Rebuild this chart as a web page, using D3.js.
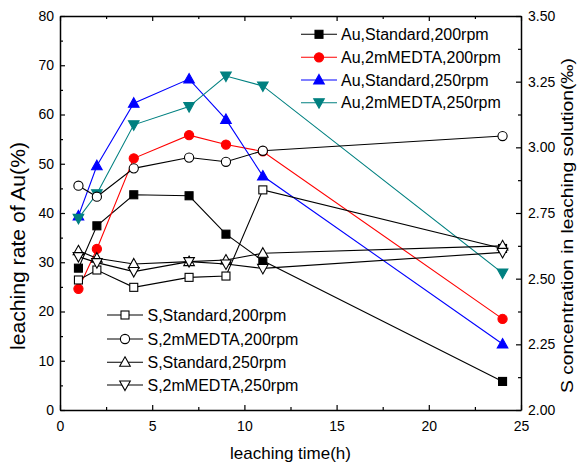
<!DOCTYPE html>
<html><head><meta charset="utf-8">
<script src="https://cdn.jsdelivr.net/npm/d3@7"></script>
<style>
body{margin:0;background:#fff}
text{font-family:Arial,"Liberation Sans",sans-serif;fill:#000}
</style>
</head><body>
<svg id="c" width="578" height="466"></svg>
<script>
// ---- data ----
const time = [1, 2, 4, 7, 9, 11, 24];
const auStd200  = [28.8, 37.4, 43.7, 43.5, 35.7, 30.3, 5.8];
const auEdta200 = [24.6, 32.7, 51.1, 55.8, 53.9, 52.5, 18.5];
const auStd250  = [39.4, 49.6, 62.3, 67.2, 59.0, 47.5, 13.4];
const auEdta250 = [38.9, 43.9, 57.9, 61.6, 67.8, 65.8, 27.8];
const sStd200  = [2.495, 2.533, 2.467, 2.505, 2.510, 2.838, 2.615];
const sEdta200 = [2.854, 2.812, 2.920, 2.961, 2.945, 2.987, 3.043];
const sStd250  = [2.606, 2.578, 2.556, 2.565, 2.571, 2.597, 2.625];
const sEdta250 = [2.584, 2.561, 2.527, 2.565, 2.556, 2.539, 2.600];
const xTickVals = [0, 5, 10, 15, 20, 25];
const leftTickVals = [0, 10, 20, 30, 40, 50, 60, 70, 80];
const rightTickVals = [2.00, 2.25, 2.50, 2.75, 3.00, 3.25, 3.50];
const auNames = ["Au,Standard,200rpm", "Au,2mMEDTA,200rpm", "Au,Standard,250rpm", "Au,2mMEDTA,250rpm"];
const sNames = ["S,Standard,200rpm", "S,2mMEDTA,200rpm", "S,Standard,250rpm", "S,2mMEDTA,250rpm"];
const xTitle = "leaching time(h)";
const yLeftTitle = "leaching rate of Au(%)";
const yRightTitle = "S concentration in leaching solution(‰)";

// ---- layout ----
const L = 60, R = 521, T = 16, B = 410;
const svg = d3.select("#c");
const x = d3.scaleLinear().domain([0, 25]).range([L, R]);
const yL = d3.scaleLinear().domain([0, 80]).range([B, T]);
const yR = d3.scaleLinear().domain([2, 3.5]).range([B, T]);

function styleAxis(g) {
  g.selectAll("path.domain").attr("stroke", "#000").attr("stroke-width", 1.5);
  g.selectAll(".tick line").attr("stroke", "#000").attr("stroke-width", 1.2);
  g.selectAll(".tick text").attr("font-size", 14).attr("font-family", "Arial, 'Liberation Sans', sans-serif");
}
const range = (a, b, s) => d3.range(a, b + s / 2, s);

// minor ticks
svg.append("g").attr("transform", `translate(0,${B})`)
  .call(d3.axisBottom(x).tickValues(range(2.5, 22.5, 5)).tickSize(-3).tickSizeOuter(0).tickFormat(""))
  .call(styleAxis).select(".domain").remove();
svg.append("g").attr("transform", `translate(0,${T})`)
  .call(d3.axisTop(x).tickValues(range(2.5, 22.5, 5)).tickSize(-3).tickSizeOuter(0).tickFormat(""))
  .call(styleAxis).select(".domain").remove();
svg.append("g").attr("transform", `translate(${L},0)`)
  .call(d3.axisLeft(yL).tickValues(range(5, 75, 10)).tickSize(-3).tickSizeOuter(0).tickFormat(""))
  .call(styleAxis).select(".domain").remove();
svg.append("g").attr("transform", `translate(${R},0)`)
  .call(d3.axisRight(yR).tickValues(range(2.125, 3.375, 0.25)).tickSize(-3).tickSizeOuter(0).tickFormat(""))
  .call(styleAxis).select(".domain").remove();

// major axes
svg.append("g").attr("transform", `translate(0,${B})`)
  .call(d3.axisBottom(x).tickValues(xTickVals).tickSize(-5).tickSizeOuter(0).tickPadding(11).tickFormat(d3.format("d")))
  .call(styleAxis);
svg.append("g").attr("transform", `translate(0,${T})`)
  .call(d3.axisTop(x).tickValues(xTickVals).tickSize(-5).tickSizeOuter(0).tickFormat(""))
  .call(styleAxis);
svg.append("g").attr("transform", `translate(${L},0)`)
  .call(d3.axisLeft(yL).tickValues(leftTickVals).tickSize(-5).tickSizeOuter(0).tickPadding(6).tickFormat(d3.format("d")))
  .call(styleAxis);
svg.append("g").attr("transform", `translate(${R},0)`)
  .call(d3.axisRight(yR).tickValues(rightTickVals).tickSize(-5).tickSizeOuter(0).tickPadding(7).tickFormat(d3.format(".2f")))
  .call(styleAxis);

// ---- markers ----
function marker(g, shape, cx, cy, color, filled) {
  const fill = filled ? color : "#fff";
  const sw = 1.1;
  if (shape === "square") {
    g.append("rect").attr("x", cx - 4).attr("y", cy - 4).attr("width", 8).attr("height", 8)
      .attr("fill", fill).attr("stroke", color).attr("stroke-width", sw);
  } else if (shape === "circle") {
    g.append("circle").attr("cx", cx).attr("cy", cy).attr("r", 4.6)
      .attr("fill", fill).attr("stroke", color).attr("stroke-width", sw);
  } else if (shape === "up") {
    g.append("path").attr("d", `M${cx},${cy - 5.5}L${cx + 5.3},${cy + 4}L${cx - 5.3},${cy + 4}Z`)
      .attr("fill", fill).attr("stroke", color).attr("stroke-width", sw);
  } else {
    g.append("path").attr("d", `M${cx},${cy + 5.5}L${cx + 5.3},${cy - 4}L${cx - 5.3},${cy - 4}Z`)
      .attr("fill", fill).attr("stroke", color).attr("stroke-width", sw);
  }
}

const auSeries = [
  {vals: auStd200, color: "#000000", shape: "square"},
  {vals: auEdta200, color: "#ff0000", shape: "circle"},
  {vals: auStd250, color: "#0000ff", shape: "up"},
  {vals: auEdta250, color: "#008080", shape: "down"}
];
const sSeries = [
  {vals: sStd200, color: "#000000", shape: "square"},
  {vals: sEdta200, color: "#000000", shape: "circle"},
  {vals: sStd250, color: "#000000", shape: "up"},
  {vals: sEdta250, color: "#000000", shape: "down"}
];

function drawSeries(s, yScale, filled) {
  const g = svg.append("g");
  const line = d3.line().x((d, i) => x(time[i])).y(d => yScale(d));
  g.append("path").attr("d", line(s.vals)).attr("fill", "none").attr("stroke", s.color).attr("stroke-width", 1.1);
  s.vals.forEach((v, i) => marker(g, s.shape, x(time[i]), yScale(v), s.color, filled));
}
auSeries.forEach(s => drawSeries(s, yL, true));
sSeries.forEach(s => drawSeries(s, yR, false));

// ---- legends ----
function legend(names, series, filled, lx0, lx1, tx, ys) {
  names.forEach((n, i) => {
    const g = svg.append("g");
    const s = series[i];
    g.append("line").attr("x1", lx0).attr("x2", lx1).attr("y1", ys[i]).attr("y2", ys[i])
      .attr("stroke", s.color).attr("stroke-width", 1.1);
    marker(g, s.shape, (lx0 + lx1) / 2, ys[i], s.color, filled);
    g.append("text").attr("x", tx).attr("y", ys[i]).attr("dy", "0.36em").attr("font-size", 16).text(n);
  });
}
legend(auNames, auSeries, true, 301, 337, 341, [34.3, 57.3, 80, 102.7]);
legend(sNames, sSeries, false, 107, 143, 147.5, [315, 339, 362.3, 385]);

// ---- titles ----
svg.append("text").attr("x", (L + R) / 2).attr("y", 459).attr("text-anchor", "middle")
  .attr("font-size", 17).text(xTitle);
svg.append("text").attr("transform", "translate(24.5,246) rotate(-90)").attr("text-anchor", "middle")
  .attr("font-size", 20).attr("textLength", 208).attr("lengthAdjust", "spacingAndGlyphs").text(yLeftTitle);
svg.append("text").attr("transform", "translate(573,225.5) rotate(-90)").attr("text-anchor", "middle")
  .attr("font-size", 17).attr("textLength", 335).attr("lengthAdjust", "spacingAndGlyphs").text(yRightTitle);
</script>
</body></html>
